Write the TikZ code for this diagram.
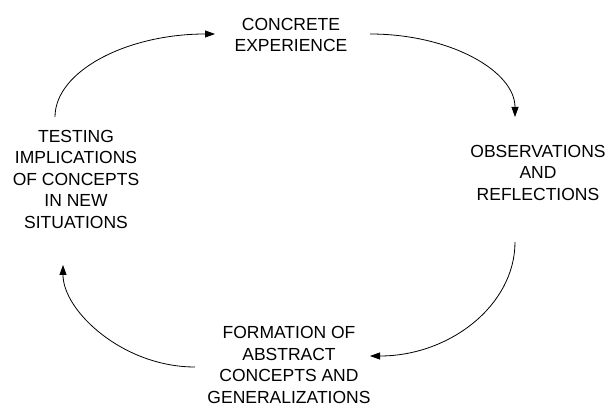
\documentclass[tikz,border=0pt]{standalone}
\usepackage{fontspec}
\setmainfont{Liberation Sans}
\usetikzlibrary{arrows.meta}
\begin{document}
\begin{tikzpicture}[x=1pt,y=-1pt,
  lbl/.style={align=center,inner sep=0pt,font=\fontsize{17.5}{21.5}\selectfont},
  cyc/.style={line width=0.8pt,-{Triangle[length=10pt,width=7pt]}}]
\useasboundingbox (0,0) rectangle (606,406);
\node[lbl] (ce) at (291,35) {CONCRETE\\EXPERIENCE};
\node[lbl] (or) at (538,172.5) {OBSERVATIONS\\AND\\REFLECTIONS};
\node[lbl] (fa) at (289,365) {FORMATION OF\\ABSTRACT\\CONCEPTS AND\\GENERALIZATIONS};
\node[lbl] (ti) at (76,179) {TESTING\\IMPLICATIONS\\OF CONCEPTS\\IN NEW\\SITUATIONS};
\coordinate (a1s) at (55,117);  \coordinate (a1e) at (215,34);
\coordinate (a2s) at (370,34);  \coordinate (a2e) at (515,117);
\coordinate (a3s) at (515,242); \coordinate (a3e) at (370,356);
\coordinate (a4s) at (195,367); \coordinate (a4e) at (63,265);
\draw[cyc] (a1s) .. controls (55,71) and (127,34) .. (a1e);
\draw[cyc] (a2s) .. controls (450,34) and (515,71) .. (a2e);
\draw[cyc] (a3s) .. controls (515,305) and (450,356) .. (a3e);
\draw[cyc] (a4s) .. controls (123,367) and (63,311) .. (a4e);
\end{tikzpicture}
\end{document}
